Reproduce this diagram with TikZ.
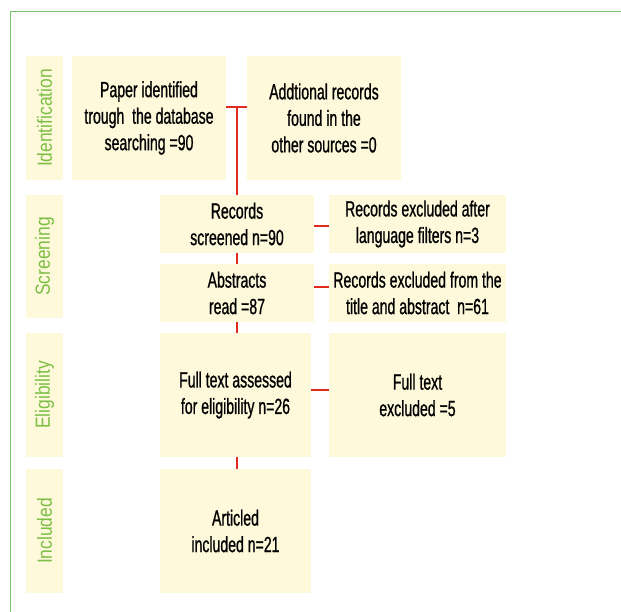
\documentclass[tikz,border=0pt]{standalone}
\usepackage{fontspec}
\setmainfont{Liberation Sans}[FakeStretch=0.64,FakeBold=0.8]
\newfontfamily\labfont{Liberation Sans}[FakeStretch=0.85]
\definecolor{boxfill}{HTML}{FEF9DB}
\definecolor{labgreen}{HTML}{7DBF45}
\definecolor{framegreen}{HTML}{74C26A}
\definecolor{connred}{HTML}{E02B20}
\begin{document}
\begin{tikzpicture}[x=1pt,y=-1pt,
  box/.style={fill=boxfill, inner sep=0pt, align=center, text=black,
    font=\fontsize{22}{26.5}\selectfont},
  lab/.style={fill=boxfill, inner sep=0pt, minimum width=37pt, minimum height=124pt,
    text=labgreen, font=\labfont\fontsize{20.5}{24}\selectfont},
  conn/.style={draw=connred, line width=2pt}]
\useasboundingbox (0,0) rectangle (621,612);
\draw[framegreen, line width=0.9pt] (10,612) -- (10,11) -- (621,11);
% stage labels
\node[lab] (lid) at (44.5,118) {\rotatebox{90}{Identification}};
\node[lab, minimum height=123pt] (lsc) at (44.5,256.5) {\rotatebox{90}{Screening}};
\node[lab] (lel) at (44.5,395) {\rotatebox{90}{Eligibility}};
\node[lab] (lin) at (44.5,531) {\rotatebox{90}{Included}};
% boxes
\node[box, minimum width=154pt, minimum height=124pt] (paper) at (149,118)
  {Paper identified\\trough\ \ the database\\searching =90};
\node[box, minimum width=154pt, minimum height=124pt] (add) at (324,118)
  {Addtional records\\found in the\\other sources =0};
\node[box, minimum width=154pt, minimum height=58pt] (rec) at (237,224)
  {Records\\screened n=90};
\node[box, minimum width=177pt, minimum height=58pt] (rex) at (417.5,224)
  {Records excluded after\\language filters n=3};
\node[box, minimum width=154pt, minimum height=58pt] (abs) at (237,293)
  {Abstracts\\read =87};
\node[box, minimum width=177pt, minimum height=58pt] (abx) at (417.5,293)
  {Records excluded from the\\title and abstract\ \ n=61};
\node[box, minimum width=151pt, minimum height=124pt] (full) at (235.5,395)
  {Full text assessed\\for eligibility n=26};
\node[box, minimum width=177pt, minimum height=124pt] (fex) at (417.5,395)
  {Full text\\excluded =5};
\node[box, minimum width=151pt, minimum height=124pt] (art) at (235.5,531)
  {Articled\\included n=21};
% connectors
\coordinate (tj) at (237,107);
\draw[conn] (paper.east |- tj) -- (add.west |- tj);
\draw[conn] (tj) -- (rec.north);
\draw[conn] (rec.south) -- (abs.north);
\draw[conn] (abs.south) -- (abs.south |- full.north);
\draw[conn] (abs.south |- full.south) -- (abs.south |- art.north);
\draw[conn] ([yshift=-2pt]rec.east) -- ([yshift=-2pt]rex.west);
\draw[conn] ([yshift=6pt]abs.east) -- ([yshift=6pt]abx.west);
\draw[conn] ([yshift=5pt]full.east) -- ([yshift=5pt]fex.west);
\end{tikzpicture}
\end{document}
